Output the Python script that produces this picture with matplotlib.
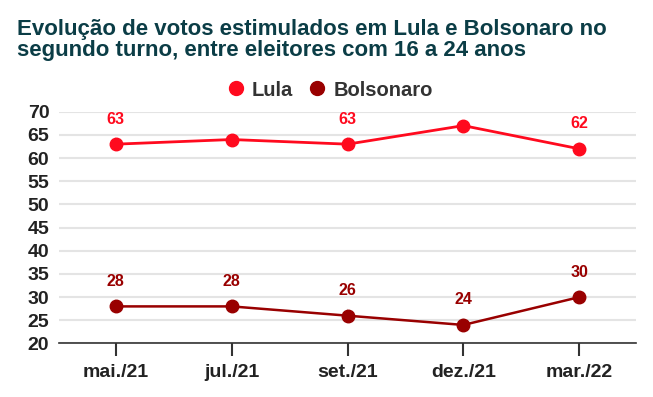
import matplotlib
matplotlib.use("Agg")
import matplotlib.pyplot as plt

periods = ["mai./21", "jul./21", "set./21", "dez./21", "mar./22"]
lula = [63, 64, 63, 67, 62]
bolsonaro = [28, 28, 26, 24, 30]
lula_labelled = [True, False, True, False, True]
bolsonaro_labelled = [True, True, True, True, True]
y_ticks = [20, 25, 30, 35, 40, 45, 50, 55, 60, 65, 70]
title_lines = ["Evolução de votos estimulados em Lula e Bolsonaro no",
               "segundo turno, entre eleitores com 16 a 24 anos"]

COLOR_LULA = "#ff0a1e"
COLOR_BOLSO = "#990000"
COLOR_TITLE = "#0b3d46"
COLOR_TEXT = "#222222"
COLOR_GRID = "#e4e4e4"

plt.rcParams["font.family"] = ["Liberation Sans", "DejaVu Sans"]
plt.rcParams["font.weight"] = "bold"

fig = plt.figure(figsize=(6.53, 3.97), dpi=100)
ax = fig.add_axes([0.0904, 0.1348, 0.8836, 0.5838])

x = list(range(len(periods)))
ax.plot(x, lula, color=COLOR_LULA, lw=2, marker="o", ms=9, zorder=3)
ax.plot(x, bolsonaro, color=COLOR_BOLSO, lw=1.8, marker="o", ms=9, zorder=3)


def add_labels(values, flags, color):
    # value labels sit above the marker, joined to it by a faint leader line
    for xi, v, show in zip(x, values, flags):
        if not show:
            continue
        ax.annotate(str(v), (xi, v), xytext=(0, 18), textcoords="offset points",
                    ha="center", va="center", color=color, fontsize=11.5,
                    fontweight="bold", zorder=2,
                    arrowprops=dict(arrowstyle="-", color="#e0e0e0", lw=0.8,
                                    shrinkA=6, shrinkB=4))


add_labels(lula, lula_labelled, COLOR_LULA)
add_labels(bolsonaro, bolsonaro_labelled, COLOR_BOLSO)

ax.set_xlim(-0.49, 4.49)
ax.set_ylim(20, 70)
ax.set_yticks(y_ticks)
ax.set_xticks(x)
ax.set_xticklabels(periods)
ax.grid(axis="y", color=COLOR_GRID, lw=1.5)
ax.set_axisbelow(True)
for side in ["top", "right", "left"]:
    ax.spines[side].set_visible(False)
ax.spines["bottom"].set_color("#333333")
ax.spines["bottom"].set_linewidth(1.2)
ax.tick_params(axis="y", length=0, pad=7)
ax.tick_params(axis="x", length=9, width=1.5, color="#333333", pad=6)
for lab in ax.get_yticklabels() + ax.get_xticklabels():
    lab.set_fontweight("bold")
    lab.set_fontsize(14)
    lab.set_color(COLOR_TEXT)

for line, y in zip(title_lines, [1 - 35 / 397, 1 - 56 / 397]):
    fig.text(0.026, y, line, ha="left", va="baseline", fontsize=16,
             fontweight="bold", color=COLOR_TITLE)

handles = [plt.Line2D([], [], ls="", marker="o", ms=10, color=c) for c in (COLOR_LULA, COLOR_BOLSO)]
fig.legend(handles, ["Lula", "Bolsonaro"], loc="center", bbox_to_anchor=(0.506, 1 - 90 / 397),
           ncol=2, frameon=False, handlelength=0.8, handletextpad=0.4, columnspacing=0.8,
           prop={"weight": "bold", "size": 14.5}, labelcolor="#333333")

fig.savefig("out.png", dpi=100)
